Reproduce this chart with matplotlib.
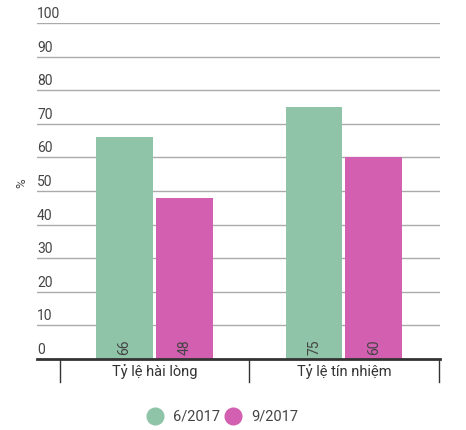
import numpy as np
import matplotlib.pyplot as plt
import matplotlib.transforms as mtransforms

plt.rcParams['font.family'] = ['Roboto', 'DejaVu Sans']

categories = ['Tỷ lệ hài lòng', 'Tỷ lệ tín nhiệm']
series_names = ['6/2017', '9/2017']
jun_2017 = [66, 75]
sep_2017 = [48, 60]
colors = ['#8fc4a8', '#d35fb0']
yticks = [0, 10, 20, 30, 40, 50, 60, 70, 80, 90, 100]

W, H = 466, 431
fig = plt.figure(figsize=(W / 100, H / 100), dpi=100)
# axes in pixel coordinates: left 37, right 440, top 24 (=100), bottom 360 (=0)
ax = fig.add_axes([37 / W, 1 - 360 / H, (440 - 37) / W, (360 - 24) / H])

x = np.arange(len(categories))
bw = 0.30
off = 0.158
for vals, name, c, d in [(jun_2017, series_names[0], colors[0], -off),
                         (sep_2017, series_names[1], colors[1], off)]:
    ax.bar(x + d, vals, width=bw, color=c, zorder=3, label=name)
    for xi, v in zip(x + d, vals):
        ax.text(xi, 1.5, str(v), rotation=90, ha='center', va='bottom',
                fontsize=10, color='#444444', zorder=4)

ax.set_xlim(-0.62, 1.507)
ax.set_ylim(0, 100)

for s in ['top', 'right', 'left']:
    ax.spines[s].set_visible(False)
ax.spines['bottom'].set_color('#333333')
ax.spines['bottom'].set_linewidth(2)
ax.spines['bottom'].set_zorder(5)

ax.set_yticks([])
ax.set_xticks([])
ytrans = mtransforms.blended_transform_factory(ax.transAxes, ax.transData)
for t in yticks:
    if t > 0:
        ax.axhline(t, color='#aaaaaa', linewidth=1, zorder=1)
    ax.text(0.0, t + 0.9, str(t), transform=ytrans,
            ha='left', va='bottom', fontsize=10, color='#444444')

# category separators and labels below the axis
trans = mtransforms.blended_transform_factory(ax.transData, ax.transAxes)
for b in [-0.5, 0.5, 1.5]:
    ax.plot([b, b], [0, -23 / 336], color='#333333', linewidth=1, transform=trans, clip_on=False)
for xi, cat in zip(x, categories):
    ax.text(xi, -12 / 336, cat, transform=trans, ha='center', va='center',
            fontsize=10.5, color='#333333')

fig.text(22 / W, 1 - 183 / H, '%', rotation=90, ha='center', va='center',
         fontsize=9.5, color='#444444')

# legend drawn by hand
for i, (c, n) in enumerate(zip(colors, series_names)):
    cx = (155 + 78 * i) / W
    cy = 1 - 417 / H
    fig.add_artist(plt.Line2D([cx], [cy], marker='o', markersize=12, color=c,
                              linestyle='', transform=fig.transFigure))
    fig.text(cx + 18 / W, cy, n, ha='left', va='center', fontsize=10.5, color='#444444')

fig.savefig('out.png', dpi=100)
